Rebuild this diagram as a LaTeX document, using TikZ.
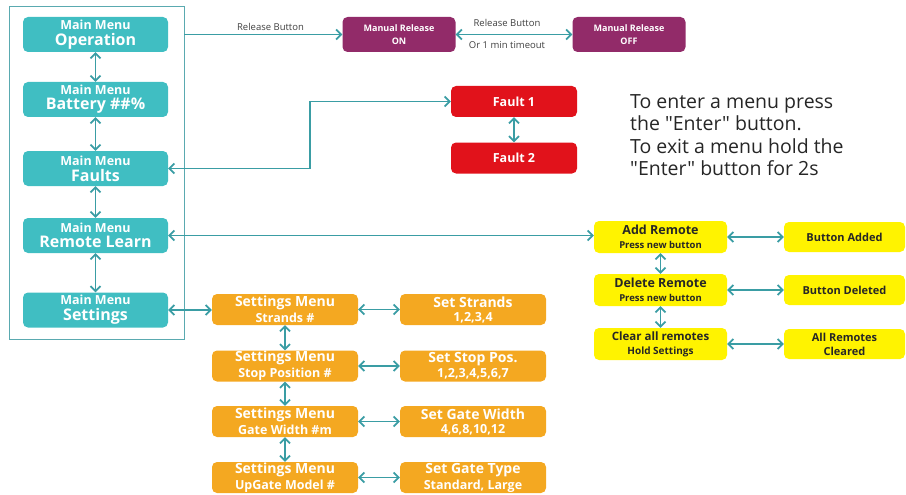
\documentclass[tikz,border=0pt]{standalone}
\usepackage{fontspec}
\setmainfont{Open Sans}[Ligatures=TeXOff]
\usetikzlibrary{arrows.meta}

\definecolor{menuteal}{HTML}{40BEC2}
\definecolor{linkteal}{HTML}{3A9DA4}
\definecolor{frameteal}{HTML}{5AAAB0}
\definecolor{relpurple}{HTML}{922B69}
\definecolor{faultred}{HTML}{E1121B}
\definecolor{remyellow}{HTML}{FFF300}
\definecolor{setorange}{HTML}{F4A821}

\newcommand{\fs}[2]{{\fontsize{#1}{#1}\selectfont #2}}

\begin{document}
\begin{tikzpicture}[x=1pt,y=-1pt,
    box/.style={rounded corners=5pt,align=center,inner sep=0pt,font=\bfseries},
    mainbox/.style={box,fill=menuteal,text=white,minimum width=145pt,minimum height=35pt},
    relbox/.style={box,fill=relpurple,text=white,minimum width=113pt,minimum height=35pt},
    faultbox/.style={box,fill=faultred,text=white,minimum width=126pt,minimum height=31pt},
    rembox/.style={box,fill=remyellow,text=black!85,minimum width=133pt,minimum height=32pt},
    donebox/.style={box,fill=remyellow,text=black!85,minimum width=121pt,minimum height=30pt},
    setbox/.style={box,fill=setorange,text=white,minimum width=146pt,minimum height=31pt},
    frame/.style={draw=frameteal,line width=0.8pt,minimum width=175pt,minimum height=333pt,inner sep=0pt},
    tip/.style={arrows={-Straight Barb[length=5pt,width=10pt]}},
    link/.style={draw=linkteal,line width=1.7pt,tip},
    twoway/.style={draw=linkteal,line width=1.7pt,arrows={Straight Barb[length=5pt,width=10pt]-Straight Barb[length=5pt,width=10pt]}},
    lbl/.style={font=\fontsize{9.5}{11}\selectfont,text=black!75,inner sep=0pt}]

    \useasboundingbox (0,0) rectangle (906,495);

    \node[frame] (menuframe) at (96.5,172.5) {};

    \foreach \nm/\sub/\yy in {op/Operation/34.5,bat/Battery \#\#\%/99.5,flt/Faults/168.5,rem/Remote Learn/235.5,set/Settings/310}{
        \node[mainbox] (\nm) at (95.5,\yy) {\fs{12.5}{Main Menu}\\[3pt]\fs{16}{\sub}};
    }
    \foreach \a/\b in {op/bat,bat/flt,flt/rem,rem/set}
        \draw[twoway] (\a) -- (\b);

    \node[relbox] (relon) at (399,34.5) {\fs{9}{Manual Release}\\[1pt]\fs{9}{ON}};
    \node[relbox] (reloff) at (629,34.5) {\fs{9}{Manual Release}\\[1pt]\fs{9}{OFF}};
    \draw[link] (menuframe.east |- op) -- (relon);
    \draw[twoway] (relon) -- (reloff);
    \node[lbl] (rellbl) at (270.5,27) {Release Button};
    \node[lbl] (toglbl) at (507,23) {Release Button};
    \node[lbl] (timelbl) at (507,45) {Or 1 min timeout};

    \node[faultbox] (fone) at (514,101.5) {\fs{12.5}{Fault 1}};
    \node[faultbox] (ftwo) at (514,158) {\fs{12.5}{Fault 2}};
    \draw[twoway] (fone) -- (ftwo);
    \coordinate (fbend) at (310,130);
    \draw[twoway] (flt.east) -- (flt.east -| fbend) |- (fone.west);

    \node[anchor=north west,align=left,inner sep=0pt,text=black!85,font=\fontsize{19.5}{22.5}\selectfont] (note) at (630,94)
        {To enter a menu press\\the "Enter" button.\\To exit a menu hold the\\"Enter" button for 2s};

    \node[rembox] (addr) at (660.5,237) {\fs{12.5}{Add Remote}\\[2pt]\fs{9.5}{Press new button}};
    \node[rembox] (delr) at (660.5,290) {\fs{12.5}{Delete Remote}\\[2pt]\fs{9.5}{Press new button}};
    \node[rembox] (clrr) at (660.5,344) {\fs{11.5}{Clear all remotes}\\[2pt]\fs{10}{Hold Settings}};
    \node[donebox] (addd) at (844.5,237) {\fs{11}{Button Added}};
    \node[donebox] (deld) at (844.5,290) {\fs{11}{Button Deleted}};
    \node[donebox] (clrd) at (844.5,344) {\fs{11}{All Remotes}\\[2pt]\fs{11}{Cleared}};
    \draw[twoway] (rem.east) -- (rem.east -| addr.west);
    \foreach \a/\b in {addr/addd,delr/deld,clrr/clrd}
        \draw[twoway] (\a) -- (\b);
    \draw[twoway] (addr) -- (delr);
    \draw[twoway] (delr) -- (clrr);

    \node[setbox] (mstr) at (285,309.5) {\fs{14}{Settings Menu}\\[2pt]\fs{12.5}{Strands \#}};
    \node[setbox] (mstop) at (285,366) {\fs{14}{Settings Menu}\\[2pt]\fs{12.5}{Stop Position \#}};
    \node[setbox] (mgate) at (285,421.5) {\fs{14}{Settings Menu}\\[2pt]\fs{12.5}{Gate Width \#m}};
    \node[setbox] (mtype) at (285,477.5) {\fs{14}{Settings Menu}\\[2pt]\fs{12.5}{UpGate Model \#}};
    \node[setbox] (vstr) at (473,309.5) {\fs{14}{Set Strands}\\[2pt]\fs{12.5}{1,2,3,4}};
    \node[setbox] (vstop) at (473,366) {\fs{14}{Set Stop Pos.}\\[2pt]\fs{12.5}{1,2,3,4,5,6,7}};
    \node[setbox] (vgate) at (473,421.5) {\fs{14}{Set Gate Width}\\[2pt]\fs{12.5}{4,6,8,10,12}};
    \node[setbox] (vtype) at (473,477.5) {\fs{14}{Set Gate Type}\\[2pt]\fs{12.5}{Standard, Large}};
    \draw[twoway] (set.east) -- (set.east -| mstr.west);
    \foreach \a/\b in {mstr/vstr,mstop/vstop,mgate/vgate,mtype/vtype}
        \draw[twoway] (\a) -- (\b);
    \foreach \a/\b in {mstr/mstop,mstop/mgate,mgate/mtype}
        \draw[twoway] (\a) -- (\b);
\end{tikzpicture}
\end{document}
